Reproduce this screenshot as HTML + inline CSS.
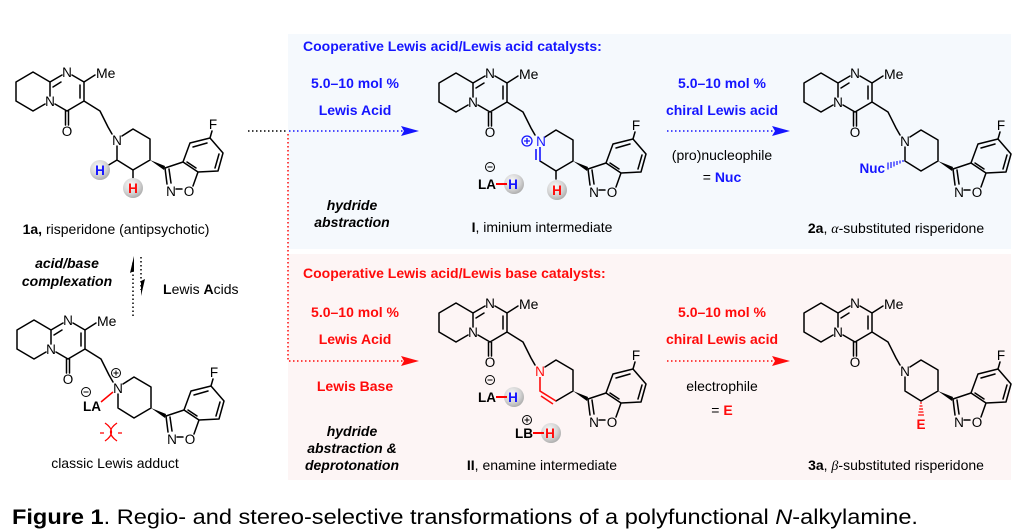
<!DOCTYPE html>
<html><head><meta charset="utf-8"><style>
html,body{margin:0;padding:0;background:#fff;}
svg{display:block;font-family:"Liberation Sans",Arial,sans-serif;}
.b{fill:none;stroke:#000;stroke-width:1.5;stroke-linejoin:round;stroke-linecap:round;}
.l{font-size:13.5px;text-anchor:middle;}
.t{font-size:14px;}
.bd{font-weight:bold;}
.c{text-anchor:middle;}
.bl{fill:#1515ff;}
.rd{fill:#ff0b0b;}
</style></head><body>
<svg width="1024" height="532" viewBox="0 0 1024 532" xmlns="http://www.w3.org/2000/svg">
<defs>
<radialGradient id="hg" cx="0.4" cy="0.35" r="0.7">
<stop offset="0" stop-color="#fafafa"/><stop offset="0.6" stop-color="#d4d4d4"/><stop offset="1" stop-color="#a8a8a8"/>
</radialGradient>
</defs>
<rect x="288" y="34" width="723" height="215" fill="#f5f9fd"/>
<rect x="288" y="254" width="723" height="226" fill="#fdf5f5"/>

<!-- ===== 1a ===== -->
<g transform="translate(0,0)">
<path class="b" d="M16,101V82L33,72L50,82V96M45,104L33,111L16,101M50,82L62,75M53,87L61,82M72,75L84,82V101L67,111L55,104M80,85V98M84,82L95,75M65.5,111V125M68.5,111V125M84,101L100,111L108,127L112,134M122,136L133,129L150,139V160L133,170L117,160V146M165,168L183,162M165,168L167,184M169,169L171,183M176,189H182M193,186L198,172M183,162L190,143L210,138L223,153L218,171L198,172ZM193,147L207,143M219,154L215,168M196,168L187,162M210,138L212,131"/>
<polygon points="150,160 165,166 164,170"/>
<text class="l" x="50" y="106">N</text><text class="l" x="67" y="77">N</text><text x="96" y="78" font-size="14">Me</text>
<text class="l" x="67" y="136">O</text><text class="l" x="117" y="145">N</text><text class="l" x="171" y="196">N</text><text class="l" x="189" y="196">O</text><text class="l" x="213" y="129">F</text>
<path class="b" d="M117,160L107,166M133,170V178"/>
<circle cx="100" cy="170" r="10" fill="url(#hg)"/><text class="l bd bl" x="100" y="175">H</text>
<circle cx="133" cy="188" r="10" fill="url(#hg)"/><text class="l bd rd" x="133" y="193">H</text>
</g>
<text class="t c" x="116" y="234"><tspan class="bd">1a,</tspan> risperidone (antipsychotic)</text>

<!-- equilibrium -->
<text class="t bd c" x="67" y="268" font-style="italic">acid/base</text>
<text class="t bd c" x="67" y="286" font-style="italic">complexation</text>
<path d="M133,316V262" stroke="#000" stroke-width="1.5" stroke-dasharray="1.5 2.5"/>
<polygon points="134,256 130,273 134,271"/>
<path d="M141,257V290" stroke="#000" stroke-width="1.5" stroke-dasharray="1.5 2.5"/>
<polygon points="141,296 145,279 141,281"/>
<text class="t" x="163" y="294"><tspan class="bd">L</tspan>ewis <tspan class="bd">A</tspan>cids</text>

<!-- ===== adduct ===== -->
<g transform="translate(1,248)">
<path class="b" d="M16,101V82L33,72L50,82V96M45,104L33,111L16,101M50,82L62,75M53,87L61,82M72,75L84,82V101L67,111L55,104M80,85V98M84,82L95,75M65.5,111V125M68.5,111V125M84,101L100,111L108,127L112,134M122,136L133,129L150,139V160L133,170L117,160V146M165,168L183,162M165,168L167,184M169,169L171,183M176,189H182M193,186L198,172M183,162L190,143L210,138L223,153L218,171L198,172ZM193,147L207,143M219,154L215,168M196,168L187,162M210,138L212,131"/>
<polygon points="150,160 165,166 164,170"/>
<text class="l" x="50" y="106">N</text><text class="l" x="67" y="77">N</text><text x="96" y="78" font-size="14">Me</text>
<text class="l" x="67" y="136">O</text><text class="l" x="117" y="145">N</text><text class="l" x="171" y="196">N</text><text class="l" x="189" y="196">O</text><text class="l" x="213" y="129">F</text>
<circle cx="115" cy="125" r="4.5" fill="none" stroke="#000" stroke-width="1"/><path d="M112.5,125h5M115,122.5v5" stroke="#000" stroke-width="1"/>
<circle cx="85" cy="144" r="4.5" fill="none" stroke="#000" stroke-width="1"/><path d="M82.5,144h5" stroke="#000" stroke-width="1"/>
<text class="l bd" x="91" y="163">LA</text>
<path d="M100,154L112,144" stroke="#f00" stroke-width="1.5"/>
<path d="M104,175Q117,184 104,193M116,175Q103,184 116,193M99,185h4M117,185h4" stroke="#f00" stroke-width="1.3" fill="none"/>
</g>
<text class="t c" x="115" y="468">classic Lewis adduct</text>

<!-- ===== I ===== -->
<g transform="translate(423,1)">
<path class="b" d="M16,101V82L33,72L50,82V96M45,104L33,111L16,101M50,82L62,75M53,87L61,82M72,75L84,82V101L67,111L55,104M80,85V98M84,82L95,75M65.5,111V125M68.5,111V125M84,101L100,111L108,127L112,134M122,136L133,129L150,139V160L133,170L117,160M165,168L183,162M165,168L167,184M169,169L171,183M176,189H182M193,186L198,172M183,162L190,143L210,138L223,153L218,171L198,172ZM193,147L207,143M219,154L215,168M196,168L187,162M210,138L212,131"/>
<path d="M117,146V160M113,148V159" stroke="#1515ff" stroke-width="1.6"/>
<polygon points="150,160 165,166 164,170"/>
<text class="l" x="50" y="106">N</text><text class="l" x="67" y="77">N</text><text x="96" y="78" font-size="14">Me</text>
<text class="l" x="67" y="136">O</text><text class="l bl" x="118" y="145">N</text><text class="l" x="171" y="196">N</text><text class="l" x="189" y="196">O</text><text class="l" x="213" y="129">F</text>
<circle cx="104" cy="140" r="5" fill="none" stroke="#1515ff" stroke-width="1.3"/><path d="M101,140h6M104,137v6" stroke="#1515ff" stroke-width="1.3"/>
<path class="b" d="M133,170V178"/>
<circle cx="134" cy="189" r="10" fill="url(#hg)"/><text class="l bd rd" x="134" y="194">H</text>
<circle cx="67" cy="166" r="4.5" fill="none" stroke="#000" stroke-width="1"/><path d="M64.5,166h5" stroke="#000" stroke-width="1"/>
<circle cx="91" cy="183" r="10" fill="url(#hg)"/>
<text class="l bd" x="64" y="188">LA</text>
<path d="M73,183H84" stroke="#f00" stroke-width="2"/>
<text class="l bd bl" x="90" y="188">H</text>
</g>
<text class="t c" x="542" y="232"><tspan class="bd">I</tspan>, iminium intermediate</text>

<!-- ===== 2a ===== -->
<g transform="translate(788,1)">
<path class="b" d="M16,101V82L33,72L50,82V96M45,104L33,111L16,101M50,82L62,75M53,87L61,82M72,75L84,82V101L67,111L55,104M80,85V98M84,82L95,75M65.5,111V125M68.5,111V125M84,101L100,111L108,127L112,134M122,136L133,129L150,139V160L133,170L117,160V146M165,168L183,162M165,168L167,184M169,169L171,183M176,189H182M193,186L198,172M183,162L190,143L210,138L223,153L218,171L198,172ZM193,147L207,143M219,154L215,168M196,168L187,162M210,138L212,131"/>
<polygon points="150,160 165,166 164,170"/>
<text class="l" x="50" y="106">N</text><text class="l" x="67" y="77">N</text><text x="96" y="78" font-size="14">Me</text>
<text class="l" x="67" y="136">O</text><text class="l" x="117" y="145">N</text><text class="l" x="171" y="196">N</text><text class="l" x="189" y="196">O</text><text class="l" x="213" y="129">F</text>
<path d="M115,159v2M112,159.5v3M109,160v4M106,160.5v5M103,161v6M100,161.5v7" stroke="#1515ff" stroke-width="1.2"/>
<text class="bd bl" x="97" y="172" font-size="13.5" text-anchor="end">Nuc</text>
</g>
<text class="t c" x="896" y="233"><tspan class="bd">2a</tspan>, <tspan font-style="italic" font-family="Liberation Serif">α</tspan>-substituted risperidone</text>

<!-- ===== II ===== -->
<g transform="translate(423,231)">
<path class="b" d="M16,101V82L33,72L50,82V96M45,104L33,111L16,101M50,82L62,75M53,87L61,82M72,75L84,82V101L67,111L55,104M80,85V98M84,82L95,75M65.5,111V125M68.5,111V125M84,101L100,111L108,127L112,134M122,136L133,129L150,139V160L133,170M165,168L183,162M165,168L167,184M169,169L171,183M176,189H182M193,186L198,172M183,162L190,143L210,138L223,153L218,171L198,172ZM193,147L207,143M219,154L215,168M196,168L187,162M210,138L212,131"/>
<path d="M117,146V160L133,170M118,165L130,173" stroke="#ff0b0b" stroke-width="1.6" fill="none"/>
<polygon points="150,160 165,166 164,170"/>
<text class="l" x="50" y="106">N</text><text class="l" x="67" y="77">N</text><text x="96" y="78" font-size="14">Me</text>
<text class="l" x="67" y="136">O</text><text class="l rd" x="117" y="145">N</text><text class="l" x="171" y="196">N</text><text class="l" x="189" y="196">O</text><text class="l" x="213" y="129">F</text>
<circle cx="67" cy="149" r="4.5" fill="none" stroke="#000" stroke-width="1"/><path d="M64.5,149h5" stroke="#000" stroke-width="1"/>
<circle cx="91" cy="166" r="10" fill="url(#hg)"/>
<text class="l bd" x="64" y="171">LA</text>
<path d="M73,166H84" stroke="#f00" stroke-width="2"/>
<text class="l bd bl" x="90" y="171">H</text>
<circle cx="104" cy="189" r="4.5" fill="none" stroke="#000" stroke-width="1"/><path d="M101.5,189h5M104,186.5v5" stroke="#000" stroke-width="1"/>
<circle cx="128" cy="202" r="10" fill="url(#hg)"/>
<text class="l bd" x="101" y="207">LB</text>
<path d="M110,202H121" stroke="#f00" stroke-width="2"/>
<text class="l bd rd" x="127" y="207">H</text>
</g>
<text class="t c" x="542" y="470"><tspan class="bd">II</tspan>, enamine intermediate</text>

<!-- ===== 3a ===== -->
<g transform="translate(788,231)">
<path class="b" d="M16,101V82L33,72L50,82V96M45,104L33,111L16,101M50,82L62,75M53,87L61,82M72,75L84,82V101L67,111L55,104M80,85V98M84,82L95,75M65.5,111V125M68.5,111V125M84,101L100,111L108,127L112,134M122,136L133,129L150,139V160L133,170L117,160V146M165,168L183,162M165,168L167,184M169,169L171,183M176,189H182M193,186L198,172M183,162L190,143L210,138L223,153L218,171L198,172ZM193,147L207,143M219,154L215,168M196,168L187,162M210,138L212,131"/>
<polygon points="150,160 165,166 164,170"/>
<text class="l" x="50" y="106">N</text><text class="l" x="67" y="77">N</text><text x="96" y="78" font-size="14">Me</text>
<text class="l" x="67" y="136">O</text><text class="l" x="117" y="145">N</text><text class="l" x="171" y="196">N</text><text class="l" x="189" y="196">O</text><text class="l" x="213" y="129">F</text>
<path d="M132,172h2M131.5,175h3M131,178h4M130.5,181h5M130,184h6" stroke="#ff0b0b" stroke-width="1.2"/>
<text class="l bd rd" x="133" y="198">E</text>
</g>
<text class="t c" x="896" y="470"><tspan class="bd">3a</tspan>, <tspan font-style="italic" font-family="Liberation Serif">β</tspan>-substituted risperidone</text>

<!-- top panel text -->
<text class="t bd bl" x="303" y="51" font-size="14.5">Cooperative Lewis acid/Lewis acid catalysts:</text>
<text class="t bd bl c" x="355" y="88">5.0–10 mol %</text>
<text class="t bd bl c" x="355" y="115">Lewis Acid</text>
<text class="t bd c" x="352" y="210" font-style="italic">hydride</text>
<text class="t bd c" x="352" y="227" font-style="italic">abstraction</text>
<text class="t bd bl c" x="722" y="88">5.0–10 mol %</text>
<text class="t bd bl c" x="722" y="115">chiral Lewis acid</text>
<text class="t c" x="722" y="160">(pro)nucleophile</text>
<text class="t c" x="722" y="182">= <tspan class="bd bl">Nuc</tspan></text>

<!-- bottom panel text -->
<text class="t bd rd" x="303" y="278" font-size="14.5">Cooperative Lewis acid/Lewis base catalysts:</text>
<text class="t bd rd c" x="355" y="317">5.0–10 mol %</text>
<text class="t bd rd c" x="355" y="344">Lewis Acid</text>
<text class="t bd rd c" x="355" y="391">Lewis Base</text>
<text class="t bd c" x="352" y="436" font-style="italic">hydride</text>
<text class="t bd c" x="352" y="453" font-style="italic">abstraction &amp;</text>
<text class="t bd c" x="352" y="470" font-style="italic">deprotonation</text>
<text class="t bd rd c" x="722" y="317">5.0–10 mol %</text>
<text class="t bd rd c" x="722" y="344">chiral Lewis acid</text>
<text class="t c" x="722" y="391">electrophile</text>
<text class="t c" x="722" y="415">= <tspan class="bd rd">E</tspan></text>

<!-- arrows -->
<path d="M248,131H287" stroke="#000" stroke-width="1.5" stroke-dasharray="1.5 2.5"/>
<path d="M289,131H406" stroke="#1515ff" stroke-width="1.5" stroke-dasharray="1.5 2.5"/>
<polygon points="401,126 419,131 401,136 404,131" fill="#1515ff"/>
<path d="M288,134V361H406" stroke="#ff0b0b" stroke-width="1.5" stroke-dasharray="1.5 2.5" fill="none"/>
<polygon points="401,356 419,361 401,366 404,361" fill="#ff0b0b"/>
<path d="M667,131H775" stroke="#1515ff" stroke-width="1.5" stroke-dasharray="1.5 2.5"/>
<polygon points="772,126 790,131 772,136 775,131" fill="#1515ff"/>
<path d="M667,361H775" stroke="#ff0b0b" stroke-width="1.5" stroke-dasharray="1.5 2.5"/>
<polygon points="772,356 790,361 772,366 775,361" fill="#ff0b0b"/>

<!-- caption -->
<text x="12" y="524" font-size="21" textLength="906" lengthAdjust="spacingAndGlyphs"><tspan font-weight="bold">Figure 1</tspan>. Regio- and stereo-selective transformations of a polyfunctional <tspan font-style="italic">N</tspan>-alkylamine.</text>
</svg>
</body></html>
